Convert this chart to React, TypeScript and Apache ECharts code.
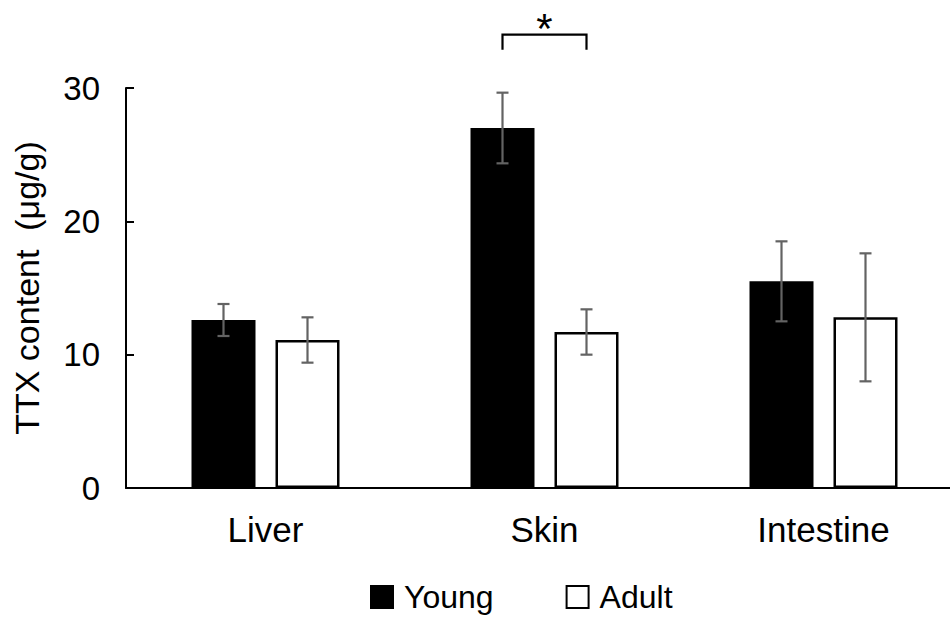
import React, { useEffect, useRef } from "react";
import * as echarts from "echarts";

const categories = ["Liver", "Skin", "Intestine"];
const youngValues = [12.6, 27.0, 15.5];
const youngErrors = [1.2, 2.65, 3.0];
const adultValues = [11.1, 11.7, 12.8];
const adultErrors = [1.7, 1.7, 4.8];
const yTicks = { min: 0, max: 30, interval: 10 };
// significance bracket: category index, level (value units), label
const sigCategories = [1];
const sigLevels = [34.0];
const sigLabels = ["*"];

const FONT = "Liberation Sans, Arial, sans-serif";
const BAR_W = 64;
const BAR_GAP_PX = 20;
const OFFSET = (BAR_W + BAR_GAP_PX) / 2;

export default function App() {
  const ref = useRef<HTMLDivElement>(null);
  useEffect(() => {
    document.body.style.margin = "0";
    const chart = echarts.init(ref.current!, null, { renderer: "svg" });
    const errData = (vals: number[], errs: number[]) =>
      vals.map((v, i) => [i, v, errs[i]]);
    const errSeries = (name: string, vals: number[], errs: number[], off: number) => ({
      type: "custom",
      name: name + " err",
      data: errData(vals, errs),
      z: 10,
      silent: true,
      encode: { x: 0, y: 1 },
      renderItem: (params: any, api: any) => {
        const xi = api.value(0);
        const v = api.value(1);
        const e = api.value(2);
        const x = api.coord([xi, v])[0] + off;
        const top = api.coord([xi, v + e])[1];
        const bot = api.coord([xi, v - e])[1];
        const st = { stroke: "#636363", lineWidth: 2.2 };
        return {
          type: "group",
          children: [
            { type: "line", shape: { x1: x, y1: top, x2: x, y2: bot }, style: st },
            { type: "line", shape: { x1: x - 6, y1: top, x2: x + 6, y2: top }, style: st },
            { type: "line", shape: { x1: x - 6, y1: bot, x2: x + 6, y2: bot }, style: st },
          ],
        };
      },
    });
    chart.setOption({
      animation: false,
      grid: { left: 126, top: 88, bottom: 132, right: 0, containLabel: false },
      legend: {
        left: 365,
        top: 576,
        itemWidth: 22,
        itemHeight: 22,
        itemGap: 72,
        icon: "rect",
        data: ["Young", "Adult"],
        textStyle: { fontSize: 32, color: "#000", fontFamily: FONT, padding: [0, 0, 0, 6] },
      },
      xAxis: {
        type: "category",
        data: categories,
        axisLine: { lineStyle: { color: "#000", width: 2 } },
        axisTick: { show: false },
        axisLabel: { fontSize: 35, color: "#000", fontFamily: FONT, margin: 24 },
      },
      yAxis: {
        type: "value",
        min: yTicks.min,
        max: yTicks.max,
        interval: yTicks.interval,
        name: "TTX content  (\u03bcg/g)",
        nameLocation: "middle",
        nameGap: 82,
        nameTextStyle: { fontSize: 34, color: "#000", fontFamily: FONT },
        splitLine: { show: false },
        axisLine: { show: true, lineStyle: { color: "#000", width: 2 } },
        axisTick: { show: true, inside: true, length: 8, lineStyle: { color: "#000", width: 2 } },
        axisLabel: { fontSize: 33, color: "#000", fontFamily: FONT, margin: 26 },
      },
      series: [
        {
          type: "bar",
          name: "Young",
          data: youngValues,
          barWidth: BAR_W,
          barGap: (BAR_GAP_PX / BAR_W) * 100 + "%",
          itemStyle: { color: "#000", borderColor: "#000", borderWidth: 2 },
        },
        {
          type: "bar",
          name: "Adult",
          data: adultValues,
          barWidth: BAR_W,
          itemStyle: { color: "#fff", borderColor: "#000", borderWidth: 2.5 },
        },
        errSeries("Young", youngValues, youngErrors, -OFFSET),
        errSeries("Adult", adultValues, adultErrors, OFFSET),
        {
          type: "custom",
          name: "sig",
          clip: false,
          silent: true,
          z: 10,
          data: sigCategories.map((c, i) => [c, sigLevels[i], sigLabels[i]]),
          encode: { x: 0, y: 1 },
          renderItem: (params: any, api: any) => {
            const xi = api.value(0);
            const lvl = api.value(1);
            const p = api.coord([xi, lvl]);
            const x1 = p[0] - OFFSET;
            const x2 = p[0] + OFFSET;
            const y = p[1];
            const st = { stroke: "#000", lineWidth: 2.2, fill: "none" };
            return {
              type: "group",
              children: [
                {
                  type: "polyline",
                  shape: { points: [[x1, y + 15], [x1, y], [x2, y], [x2, y + 15]] },
                  style: st,
                },
                {
                  type: "text",
                  style: {
                    text: sigLabels[params.dataIndex],
                    x: p[0],
                    y: y + 15,
                    align: "center",
                    verticalAlign: "bottom",
                    fontSize: 42,
                    fontFamily: FONT,
                    fill: "#000",
                  },
                },
              ],
            };
          },
        },
      ],
    });
    return () => chart.dispose();
  }, []);
  return (
    <div style={{ width: 950, height: 620, overflow: "hidden", position: "relative" }}>
      <div ref={ref} style={{ width: 963, height: 620 }} />
    </div>
  );
}
